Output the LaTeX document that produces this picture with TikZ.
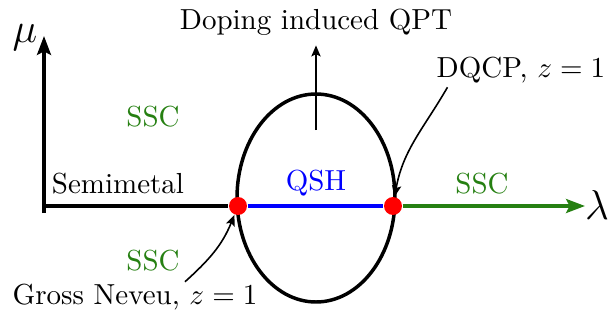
\documentclass[tikz,border=0pt]{standalone}
\usepackage{amsmath}
\usepackage{tikz}
\usetikzlibrary{positioning,arrows.meta,calc,backgrounds}
\definecolor{sscgreen}{RGB}{38,128,18}
\tikzset{
  axis/.style={line width=1.2pt, -{Stealth[length=6.5pt,width=4.8pt,inset=1.2pt]}},
  phase/.style={line width=1.2pt},
  qcp/.style={circle, fill=red, inner sep=0pt, minimum size=6.2pt},
  note/.style={-{Stealth[length=3.8pt,width=3.2pt,inset=0.8pt]}, line width=0.55pt},
  ssc/.style={text=sscgreen},
}

\begin{document}
\begin{tikzpicture}[x=0.345pt,y=-0.345pt]
\useasboundingbox (0,0) rectangle (616,320);
\coordinate (o) at (44,206);
\coordinate (mubot) at (44,213);
\coordinate (mutop) at (44,36);
\coordinate (lamend) at (585,206);
\coordinate (qptfoot) at (316,130);
\node[qcp] (gnp) at (238,206) {};
\node[qcp] (dqcp) at (393,206) {};
% phase boundaries
\begin{scope}[on background layer]
\draw[phase] (316,198) ellipse [x radius=79, y radius=104];
\draw[phase] (o) -- (gnp);
\draw[phase, blue] (gnp) -- (dqcp);
\draw[axis, sscgreen] (dqcp) -- (lamend);
\draw[axis] (mubot) -- (mutop);
\end{scope}
\node (mu) at (25,38) {\Large$\mu$};
\node (lam) at (597,205) {\Large$\lambda$};
% phases
\node (semi) at (118,184) {Semimetal};
\node[text=blue] (qsh) at (316,183) {QSH};
\node[ssc] (sscA) at (153,117) {SSC};
\node[ssc] (sscB) at (153,261) {SSC};
\node[ssc] (sscC) at (482,184) {SSC};
% annotations
\node (qpt) at (316,22) {Doping induced QPT};
\draw[note] (qptfoot) -- (qpt);
\node (dqlab) at (521,70) {DQCP, $z=1$};
\draw[note] ($(dqlab.south west)+(21,-6)$) to[out=-120,in=80] (dqcp);
\node (gnlab) at (135,297) {Gross Neveu, $z=1$};
\draw[note] ($(gnlab.north)+(50,8)$) to[out=42,in=-112] (gnp);
\end{tikzpicture}
\end{document}
